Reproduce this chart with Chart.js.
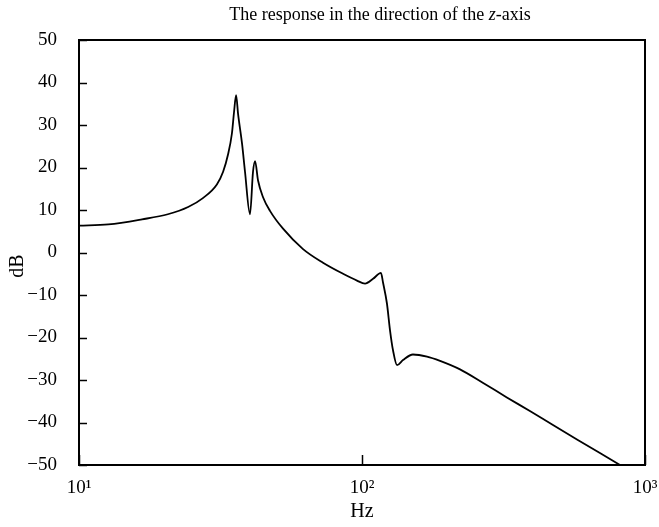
<!DOCTYPE html>
<html>
<head>
<meta charset="utf-8">
<script src="https://cdn.jsdelivr.net/npm/chart.js@4/dist/chart.umd.min.js"></script>
<style>
  html, body { margin: 0; padding: 0; background: #fff; }
  #wrap { position: relative; width: 659px; height: 527px; }
</style>
</head>
<body>
<div id="wrap"><canvas id="responseChart" width="659" height="527"></canvas></div>
<script>
// z-axis frequency response
const freqHz = [
  10, 12.7, 16.7, 20.6, 24.3, 27.4, 30.7, 32.3, 33.6, 34.7, 35.3, 35.9, 36.5,
  37.7, 38.6, 40.2, 41.2, 41.9, 42.9, 44.7, 47.3, 52.6, 61.9, 72.8, 85.7, 96,
  102.5, 109.4, 116.7, 118.6, 122.5, 125.6, 128.7, 133, 139.6, 151.4, 169.7,
  188.7, 222, 268, 325, 392, 473, 589, 693, 816
];
const responseDb = [
  6.3, 6.6, 7.8, 9.0, 10.7, 12.8, 16, 19, 23, 28, 33, 37, 32.5,
  25.5, 19, 9, 19, 21.5, 17, 13, 9.8, 5.6, 0.8, -2.4, -5, -6.6,
  -7.3, -6.2, -4.8, -7, -12, -18.3, -23, -26.5, -25.3, -24, -24.5,
  -25.5, -27.5, -30.7, -34.1, -37.3, -40.6, -44.4, -47.2, -50
];
const xTickValues = [10, 100, 1000];
const xTickLabels = ["10¹", "10²", "10³"];
const yTickValues = [50, 40, 30, 20, 10, 0, -10, -20, -30, -40, -50];

const TITLE_PARTS = ["The response in the direction of the ", "z", "-axis"];
const SERIF = '"Liberation Serif", "Times New Roman", serif';

const framePlugin = {
  id: "frame",
  afterDraw(chart) {
    const { ctx, chartArea: a, scales } = chart;
    ctx.save();
    ctx.strokeStyle = "#000";
    ctx.lineWidth = 2;
    ctx.strokeRect(a.left, a.top, a.right - a.left, a.bottom - a.top);

    // inward ticks on the left axis
    ctx.lineWidth = 1.5;
    yTickValues.forEach((v) => {
      const y = Math.round(scales.y.getPixelForValue(v)) + 0.5;
      ctx.beginPath();
      ctx.moveTo(a.left, y);
      ctx.lineTo(a.left + 8, y);
      ctx.stroke();
    });
    // inward tick on the bottom axis
    xTickValues.forEach((v) => {
      const x = Math.round(scales.x.getPixelForValue(v)) + 0.5;
      ctx.beginPath();
      ctx.moveTo(x, a.bottom);
      ctx.lineTo(x, a.bottom - 10);
      ctx.stroke();
    });

    // title with italic z
    ctx.fillStyle = "#000";
    ctx.textBaseline = "alphabetic";
    ctx.textAlign = "left";
    const normal = "18px " + SERIF;
    const italic = "italic 18px " + SERIF;
    ctx.font = normal;
    const w0 = ctx.measureText(TITLE_PARTS[0]).width;
    const w2 = ctx.measureText(TITLE_PARTS[2]).width;
    ctx.font = italic;
    const w1 = ctx.measureText(TITLE_PARTS[1]).width;
    let x = 380 - (w0 + w1 + w2) / 2;
    const base = 20;
    ctx.font = normal;
    ctx.fillText(TITLE_PARTS[0], x, base);
    x += w0;
    ctx.font = italic;
    ctx.fillText(TITLE_PARTS[1], x, base);
    x += w1;
    ctx.font = normal;
    ctx.fillText(TITLE_PARTS[2], x, base);

    // axis titles
    ctx.textAlign = "center";
    ctx.textBaseline = "middle";
    ctx.font = "20px " + SERIF;
    ctx.fillText("Hz", (a.left + a.right) / 2, 512);
    ctx.translate(18, 266);
    ctx.rotate(-Math.PI / 2);
    ctx.fillText("dB", 0, 0);
    ctx.restore();
  },
};

new Chart(document.getElementById("responseChart").getContext("2d"), {
  type: "line",
  data: {
    datasets: [
      {
        data: freqHz.map((f, i) => ({ x: f, y: responseDb[i] })),
        borderColor: "#000",
        borderWidth: 1.8,
        pointRadius: 0,
        cubicInterpolationMode: "monotone",
        fill: false,
      },
    ],
  },
  options: {
    responsive: false,
    animation: false,
    layout: { padding: { top: 40, right: 14, bottom: 0, left: 0 } },
    plugins: {
      legend: { display: false },
      tooltip: { enabled: false },
      title: { display: false },
    },
    scales: {
      x: {
        type: "logarithmic",
        min: 10,
        max: 1000,
        afterBuildTicks: (scale) => {
          scale.ticks = xTickValues.map((v) => ({ value: v }));
        },
        afterFit: (scale) => {
          scale.height = 62;
          scale.paddingLeft = 0;
          scale.paddingRight = 0;
        },
        grid: { display: false, drawTicks: false },
        border: { display: false },
        ticks: {
          color: "#000",
          padding: 12,
          maxRotation: 0,
          autoSkip: false,
          font: { family: SERIF, size: 19 },
          callback: (v) => xTickLabels[xTickValues.indexOf(v)] ?? "",
        },
      },
      y: {
        min: -50,
        max: 50,
        afterBuildTicks: (scale) => {
          scale.ticks = yTickValues.map((v) => ({ value: v }));
        },
        afterFit: (scale) => {
          scale.width = 79;
          scale.paddingTop = 0;
          scale.paddingBottom = 0;
        },
        grid: { display: false, drawTicks: false },
        border: { display: false },
        ticks: {
          color: "#000",
          padding: 22,
          font: { family: SERIF, size: 19 },
          callback: (v) => String(v).replace("-", "\u2212"),
        },
      },
    },
  },
  plugins: [framePlugin],
});
</script>
</body>
</html>
